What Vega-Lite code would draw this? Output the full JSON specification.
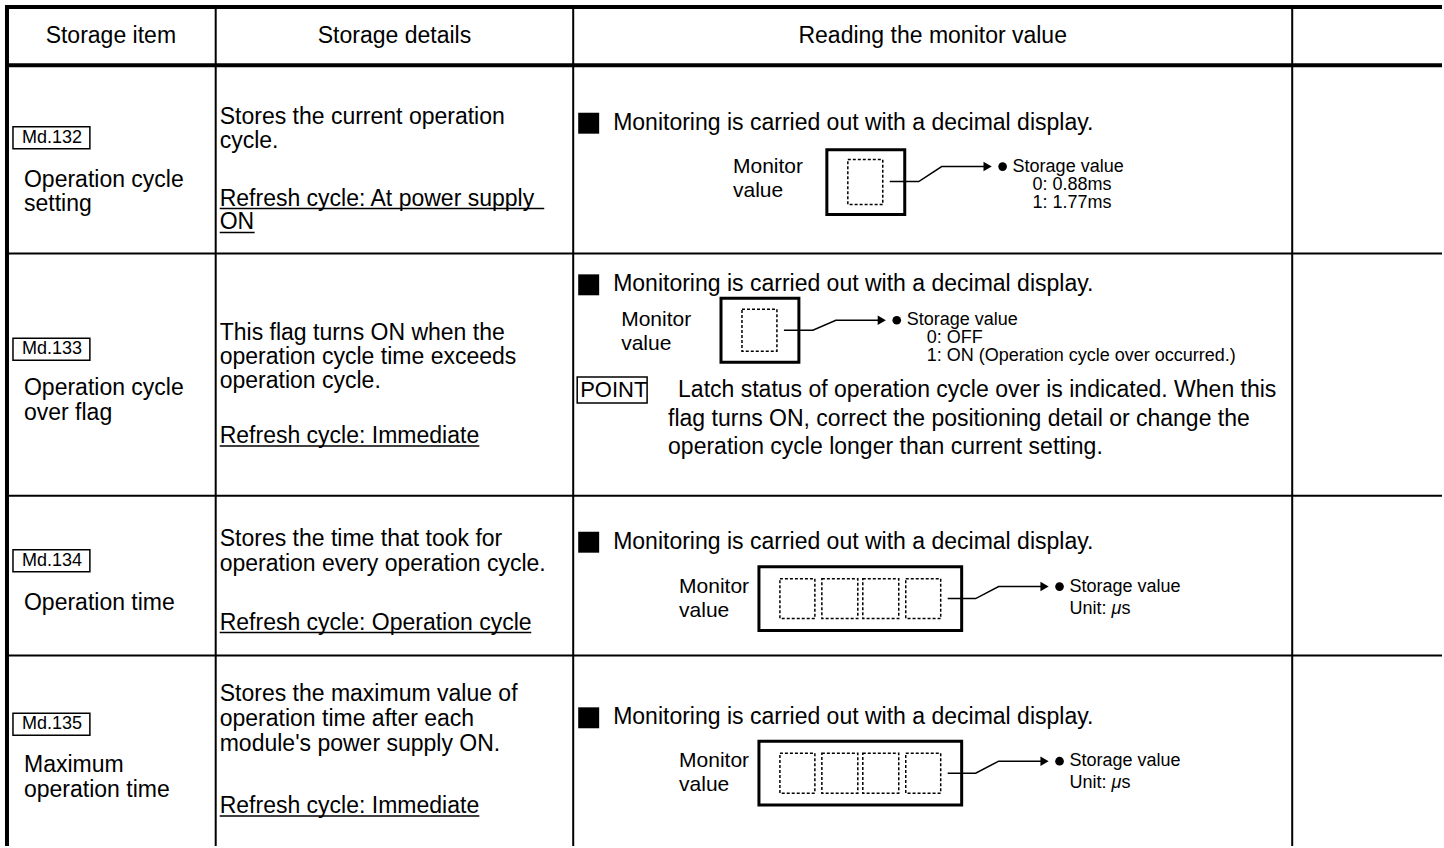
{
  "$schema": "https://vega.github.io/schema/vega-lite/v6.json",
  "width": 1444,
  "height": 848,
  "autosize": {"type": "fit", "contains": "padding"},
  "padding": 0,
  "background": "white",
  "config": {"view": {"stroke": null}, "text": {"font": "Liberation Sans"}},
  "layer": [
    {
      "data": {"values": [
        {"x": 5, "x2": 1444, "y": 7, "y2": 7},
        {"x": 5, "x2": 1444, "y": 65.5, "y2": 65.5},
        {"x": 7, "x2": 7, "y": 5, "y2": 848}
      ]},
      "mark": {"type": "rule", "color": "black", "strokeWidth": 4},
      "encoding": {
        "x": {"field": "x", "type": "quantitative", "scale": {"domain": [0, 1444], "nice": false, "zero": false}, "axis": null},
        "x2": {"field": "x2"},
        "y": {"field": "y", "type": "quantitative", "scale": {"domain": [0, 848], "nice": false, "zero": false, "reverse": true}, "axis": null},
        "y2": {"field": "y2"}
      }
    },
    {
      "data": {"values": [
        {"x": 216, "x2": 216, "y": 7, "y2": 848},
        {"x": 574, "x2": 574, "y": 7, "y2": 848},
        {"x": 1294, "x2": 1294, "y": 7, "y2": 848},
        {"x": 7, "x2": 1444, "y": 254, "y2": 254},
        {"x": 7, "x2": 1444, "y": 497, "y2": 497},
        {"x": 7, "x2": 1444, "y": 657, "y2": 657}
      ]},
      "mark": {"type": "rule", "color": "black", "strokeWidth": 2},
      "encoding": {
        "x": {"field": "x", "type": "quantitative", "axis": null},
        "x2": {"field": "x2"},
        "y": {"field": "y", "type": "quantitative", "axis": null},
        "y2": {"field": "y2"}
      }
    },
    {
      "data": {"values": [
        {"x": 220, "x2": 545, "y": 209, "y2": 209},
        {"x": 220, "x2": 255, "y": 233, "y2": 233},
        {"x": 220, "x2": 480, "y": 447, "y2": 447},
        {"x": 220, "x2": 532, "y": 634, "y2": 634},
        {"x": 220, "x2": 480, "y": 818, "y2": 818}
      ]},
      "mark": {"type": "rule", "color": "black", "strokeWidth": 1.5},
      "encoding": {
        "x": {"field": "x", "type": "quantitative", "axis": null},
        "x2": {"field": "x2"},
        "y": {"field": "y", "type": "quantitative", "axis": null},
        "y2": {"field": "y2"}
      }
    },
    {
      "data": {"values": [
        {"x": 828, "x2": 906, "y": 150, "y2": 215},
        {"x": 722, "x2": 800, "y": 299, "y2": 363},
        {"x": 760, "x2": 963, "y": 568, "y2": 632},
        {"x": 760, "x2": 963, "y": 743, "y2": 807}
      ]},
      "mark": {"type": "rect", "fillOpacity": 0, "stroke": "black", "strokeWidth": 3},
      "encoding": {
        "x": {"field": "x", "type": "quantitative", "axis": null},
        "x2": {"field": "x2"},
        "y": {"field": "y", "type": "quantitative", "axis": null},
        "y2": {"field": "y2"}
      }
    },
    {
      "data": {"values": [
        {"x": 849, "x2": 884, "y": 160, "y2": 205},
        {"x": 743, "x2": 778, "y": 310, "y2": 352},
        {"x": 781, "x2": 816, "y": 580, "y2": 620},
        {"x": 823, "x2": 859, "y": 580, "y2": 620},
        {"x": 864, "x2": 900, "y": 580, "y2": 620},
        {"x": 907, "x2": 942, "y": 580, "y2": 620},
        {"x": 781, "x2": 816, "y": 755, "y2": 795},
        {"x": 823, "x2": 859, "y": 755, "y2": 795},
        {"x": 864, "x2": 900, "y": 755, "y2": 795},
        {"x": 907, "x2": 942, "y": 755, "y2": 795}
      ]},
      "mark": {"type": "rect", "fillOpacity": 0, "stroke": "black", "strokeWidth": 1.5, "strokeDash": [3, 2]},
      "encoding": {
        "x": {"field": "x", "type": "quantitative", "axis": null},
        "x2": {"field": "x2"},
        "y": {"field": "y", "type": "quantitative", "axis": null},
        "y2": {"field": "y2"}
      }
    },
    {
      "data": {"values": [
        {"x": 13, "x2": 90, "y": 127, "y2": 149},
        {"x": 13, "x2": 90, "y": 339, "y2": 361},
        {"x": 13, "x2": 90, "y": 551, "y2": 573},
        {"x": 13, "x2": 90, "y": 715, "y2": 737},
        {"x": 578, "x2": 648, "y": 378, "y2": 404}
      ]},
      "mark": {"type": "rect", "fillOpacity": 0, "stroke": "black", "strokeWidth": 1.5},
      "encoding": {
        "x": {"field": "x", "type": "quantitative", "axis": null},
        "x2": {"field": "x2"},
        "y": {"field": "y", "type": "quantitative", "axis": null},
        "y2": {"field": "y2"}
      }
    },
    {
      "data": {"values": [
        {"x": 579, "x2": 600, "y": 113, "y2": 134},
        {"x": 579, "x2": 600, "y": 275, "y2": 296},
        {"x": 579, "x2": 600, "y": 533, "y2": 554},
        {"x": 579, "x2": 600, "y": 709, "y2": 730}
      ]},
      "mark": {"type": "rect", "color": "black"},
      "encoding": {
        "x": {"field": "x", "type": "quantitative", "axis": null},
        "x2": {"field": "x2"},
        "y": {"field": "y", "type": "quantitative", "axis": null},
        "y2": {"field": "y2"}
      }
    },
    {
      "data": {"values": [
        {"g": "r1", "o": 1, "x": 891, "y": 182},
        {"g": "r1", "o": 2, "x": 920, "y": 182},
        {"g": "r1", "o": 3, "x": 943, "y": 167},
        {"g": "r1", "o": 4, "x": 989, "y": 167},
        {"g": "r2", "o": 1, "x": 785, "y": 331},
        {"g": "r2", "o": 2, "x": 814, "y": 331},
        {"g": "r2", "o": 3, "x": 837, "y": 321},
        {"g": "r2", "o": 4, "x": 883, "y": 321},
        {"g": "r3", "o": 1, "x": 949, "y": 600},
        {"g": "r3", "o": 2, "x": 977, "y": 600},
        {"g": "r3", "o": 3, "x": 1000, "y": 588},
        {"g": "r3", "o": 4, "x": 1046, "y": 588},
        {"g": "r4", "o": 1, "x": 949, "y": 775},
        {"g": "r4", "o": 2, "x": 977, "y": 775},
        {"g": "r4", "o": 3, "x": 1000, "y": 763},
        {"g": "r4", "o": 4, "x": 1046, "y": 763}
      ]},
      "mark": {"type": "line", "color": "black", "strokeWidth": 1.5},
      "encoding": {
        "x": {"field": "x", "type": "quantitative", "axis": null},
        "y": {"field": "y", "type": "quantitative", "axis": null},
        "detail": {"field": "g", "type": "nominal"},
        "order": {"field": "o", "type": "quantitative"}
      }
    },
    {
      "data": {"values": [
        {"x": 989, "y": 167},
        {"x": 883, "y": 321},
        {"x": 1046, "y": 588},
        {"x": 1046, "y": 763}
      ]},
      "mark": {"type": "point", "shape": "triangle-right", "filled": true, "color": "black", "opacity": 1, "size": 90},
      "encoding": {
        "x": {"field": "x", "type": "quantitative", "axis": null},
        "y": {"field": "y", "type": "quantitative", "axis": null}
      }
    },
    {
      "data": {"values": [
        {"x": 1004, "y": 167},
        {"x": 898, "y": 321},
        {"x": 1061, "y": 588},
        {"x": 1061, "y": 763}
      ]},
      "mark": {"type": "point", "shape": "circle", "filled": true, "color": "black", "opacity": 1, "size": 75},
      "encoding": {
        "x": {"field": "x", "type": "quantitative", "axis": null},
        "y": {"field": "y", "type": "quantitative", "axis": null}
      }
    },
    {
      "data": {"values": [
        {"x": 111, "y": 36, "t": "Storage item"},
        {"x": 395, "y": 36, "t": "Storage details"},
        {"x": 934, "y": 36, "t": "Reading the monitor value"}
      ]},
      "mark": {"type": "text", "align": "center", "baseline": "middle", "fontSize": 23, "color": "black"},
      "encoding": {
        "x": {"field": "x", "type": "quantitative", "axis": null},
        "y": {"field": "y", "type": "quantitative", "axis": null},
        "text": {"field": "t", "type": "nominal"}
      }
    },
    {
      "data": {"values": [
        {"x": 24, "y": 180, "t": "Operation cycle"},
        {"x": 24, "y": 204, "t": "setting"},
        {"x": 220, "y": 117, "t": "Stores the current operation"},
        {"x": 220, "y": 141, "t": "cycle."},
        {"x": 220, "y": 199, "t": "Refresh cycle: At power supply "},
        {"x": 220, "y": 223, "t": "ON"},
        {"x": 614, "y": 123, "t": "Monitoring is carried out with a decimal display."},
        {"x": 24, "y": 389, "t": "Operation cycle"},
        {"x": 24, "y": 414, "t": "over flag"},
        {"x": 220, "y": 334, "t": "This flag turns ON when the"},
        {"x": 220, "y": 358, "t": "operation cycle time exceeds"},
        {"x": 220, "y": 382, "t": "operation cycle."},
        {"x": 220, "y": 437, "t": "Refresh cycle: Immediate"},
        {"x": 614, "y": 285, "t": "Monitoring is carried out with a decimal display."},
        {"x": 679, "y": 391, "t": "Latch status of operation cycle over is indicated. When this"},
        {"x": 669, "y": 420, "t": "flag turns ON, correct the positioning detail or change the"},
        {"x": 669, "y": 448, "t": "operation cycle longer than current setting."},
        {"x": 24, "y": 604, "t": "Operation time"},
        {"x": 220, "y": 540, "t": "Stores the time that took for"},
        {"x": 220, "y": 565, "t": "operation every operation cycle."},
        {"x": 220, "y": 624, "t": "Refresh cycle: Operation cycle"},
        {"x": 614, "y": 543, "t": "Monitoring is carried out with a decimal display."},
        {"x": 24, "y": 767, "t": "Maximum"},
        {"x": 24, "y": 792, "t": "operation time"},
        {"x": 220, "y": 696, "t": "Stores the maximum value of"},
        {"x": 220, "y": 721, "t": "operation time after each"},
        {"x": 220, "y": 746, "t": "module's power supply ON."},
        {"x": 220, "y": 808, "t": "Refresh cycle: Immediate"},
        {"x": 614, "y": 719, "t": "Monitoring is carried out with a decimal display."}
      ]},
      "mark": {"type": "text", "align": "left", "baseline": "middle", "fontSize": 23, "color": "black"},
      "encoding": {
        "x": {"field": "x", "type": "quantitative", "axis": null},
        "y": {"field": "y", "type": "quantitative", "axis": null},
        "text": {"field": "t", "type": "nominal"}
      }
    },
    {
      "data": {"values": [
        {"x": 734, "y": 167, "t": "Monitor"},
        {"x": 734, "y": 191, "t": "value"},
        {"x": 622, "y": 321, "t": "Monitor"},
        {"x": 622, "y": 345, "t": "value"},
        {"x": 680, "y": 588, "t": "Monitor"},
        {"x": 680, "y": 612, "t": "value"},
        {"x": 680, "y": 763, "t": "Monitor"},
        {"x": 680, "y": 787, "t": "value"}
      ]},
      "mark": {"type": "text", "align": "left", "baseline": "middle", "fontSize": 21, "color": "black"},
      "encoding": {
        "x": {"field": "x", "type": "quantitative", "axis": null},
        "y": {"field": "y", "type": "quantitative", "axis": null},
        "text": {"field": "t", "type": "nominal"}
      }
    },
    {
      "data": {"values": [
        {"x": 1014, "y": 167, "t": "Storage value"},
        {"x": 1034, "y": 185, "t": "0: 0.88ms"},
        {"x": 1034, "y": 203, "t": "1: 1.77ms"},
        {"x": 908, "y": 321, "t": "Storage value"},
        {"x": 928, "y": 339, "t": "0: OFF"},
        {"x": 928, "y": 357, "t": "1: ON (Operation cycle over occurred.)"},
        {"x": 1071, "y": 588, "t": "Storage value"},
        {"x": 1071, "y": 610, "t": "Unit: "},
        {"x": 1123, "y": 610, "t": "s"},
        {"x": 1071, "y": 763, "t": "Storage value"},
        {"x": 1071, "y": 785, "t": "Unit: "},
        {"x": 1123, "y": 785, "t": "s"}
      ]},
      "mark": {"type": "text", "align": "left", "baseline": "middle", "fontSize": 18, "color": "black"},
      "encoding": {
        "x": {"field": "x", "type": "quantitative", "axis": null},
        "y": {"field": "y", "type": "quantitative", "axis": null},
        "text": {"field": "t", "type": "nominal"}
      }
    },
    {
      "data": {"values": [
        {"x": 1113, "y": 610, "t": "μ"},
        {"x": 1113, "y": 785, "t": "μ"}
      ]},
      "mark": {"type": "text", "align": "left", "baseline": "middle", "fontSize": 18, "fontStyle": "italic", "color": "black"},
      "encoding": {
        "x": {"field": "x", "type": "quantitative", "axis": null},
        "y": {"field": "y", "type": "quantitative", "axis": null},
        "text": {"field": "t", "type": "nominal"}
      }
    },
    {
      "data": {"values": [
        {"x": 22, "y": 138, "t": "Md.132"},
        {"x": 22, "y": 350, "t": "Md.133"},
        {"x": 22, "y": 562, "t": "Md.134"},
        {"x": 22, "y": 726, "t": "Md.135"}
      ]},
      "mark": {"type": "text", "align": "left", "baseline": "middle", "fontSize": 18, "color": "black"},
      "encoding": {
        "x": {"field": "x", "type": "quantitative", "axis": null},
        "y": {"field": "y", "type": "quantitative", "axis": null},
        "text": {"field": "t", "type": "nominal"}
      }
    },
    {
      "data": {"values": [
        {"x": 581, "y": 391, "t": "POINT"}
      ]},
      "mark": {"type": "text", "align": "left", "baseline": "middle", "fontSize": 22, "color": "black"},
      "encoding": {
        "x": {"field": "x", "type": "quantitative", "axis": null},
        "y": {"field": "y", "type": "quantitative", "axis": null},
        "text": {"field": "t", "type": "nominal"}
      }
    }
  ]
}
